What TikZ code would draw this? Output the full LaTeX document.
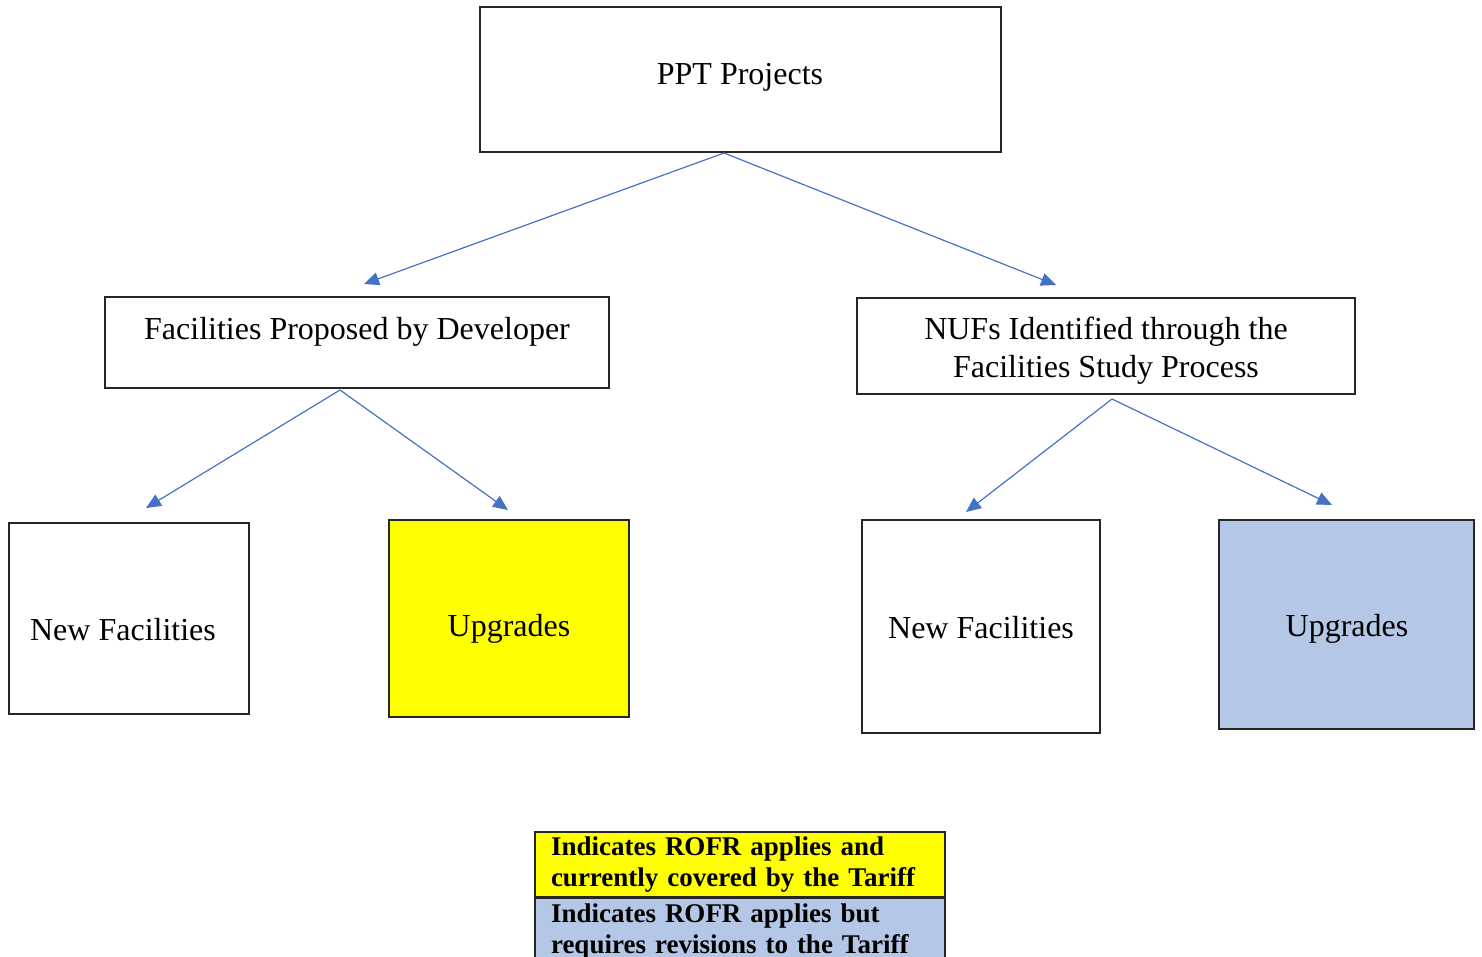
\documentclass[tikz,border=0pt]{standalone}
\usepackage{fontspec}
\setmainfont{Liberation Serif}
\usetikzlibrary{arrows.meta}
\definecolor{linkblue}{RGB}{68,114,196}
\definecolor{tariffblue}{RGB}{180,199,231}
\definecolor{rofryellow}{RGB}{255,255,0}
\begin{document}
\begin{tikzpicture}[x=1pt,y=-1pt,
    box/.style={draw=black!85, line width=1.6pt, inner sep=0pt},
    txt/.style={font=\fontsize{32}{38}\selectfont, align=center, inner sep=0pt},
    link/.style={draw=linkblue, line width=1.2pt, -{Triangle[length=15pt,width=13pt]}},
    legcell/.style={draw=black!85, line width=1.6pt, minimum width=410pt, minimum height=65pt,
      text width=378pt, inner xsep=16pt, inner ysep=0pt, align=left,
      font=\fontsize{27}{31}\selectfont\bfseries}]
  \useasboundingbox (0,0) rectangle (1482,957);

  % boxes
  \foreach \name/\cx/\cy/\w/\h/\col in {ppt/740.5/79.5/521/145/white,
      dev/357/342.5/504/91/white, nuf/1106/346/498/96/white,
      dnew/129/618.5/240/191/white, dupg/509/618.5/240/197/rofryellow,
      nnew/981/626.5/238/213/white, nupg/1346.5/624.5/255/209/tariffblue} {
    \node[box, fill=\col, minimum width=\w, minimum height=\h] (\name) at (\cx,\cy) {};
  }

  \node[txt] (ppt-t) at (740,77) {PPT Projects};
  \node[txt] (dev-t) at (357,332) {Facilities Proposed by Developer};
  \node[txt] (nuf-t) at (1106,351) {NUFs Identified through the\\Facilities Study Process};
  \node[txt] (dnew-t) at (123,630) {New Facilities};
  \node[txt] (dupg-t) at (509,629) {Upgrades};
  \node[txt] (nnew-t) at (981,628) {New Facilities};
  \node[txt] (nupg-t) at (1347,629) {Upgrades};

  % arrows
  \coordinate (ppt-o) at (724,153);
  \coordinate (dev-o) at (340,390);
  \coordinate (nuf-o) at (1112,399);
  \coordinate (dev-in) at (364,284);
  \coordinate (nuf-in) at (1056,285);
  \coordinate (dnew-in) at (146,508);
  \coordinate (dupg-in) at (508,510);
  \coordinate (nnew-in) at (966,512);
  \coordinate (nupg-in) at (1332,505);
  \foreach \a/\b in {ppt-o/dev-in, ppt-o/nuf-in, dev-o/dnew-in, dev-o/dupg-in,
      nuf-o/nnew-in, nuf-o/nupg-in}
    \draw[link] (\a) -- (\b);

  % legend
  \node[legcell, fill=rofryellow] (leg-y) at (740,864.5)
    {Indicates ROFR applies and\\currently covered by the Tariff};
  \node[legcell, fill=tariffblue, anchor=north] (leg-b) at (leg-y.south)
    {Indicates ROFR applies but\\requires revisions to the Tariff};
\end{tikzpicture}
\end{document}
